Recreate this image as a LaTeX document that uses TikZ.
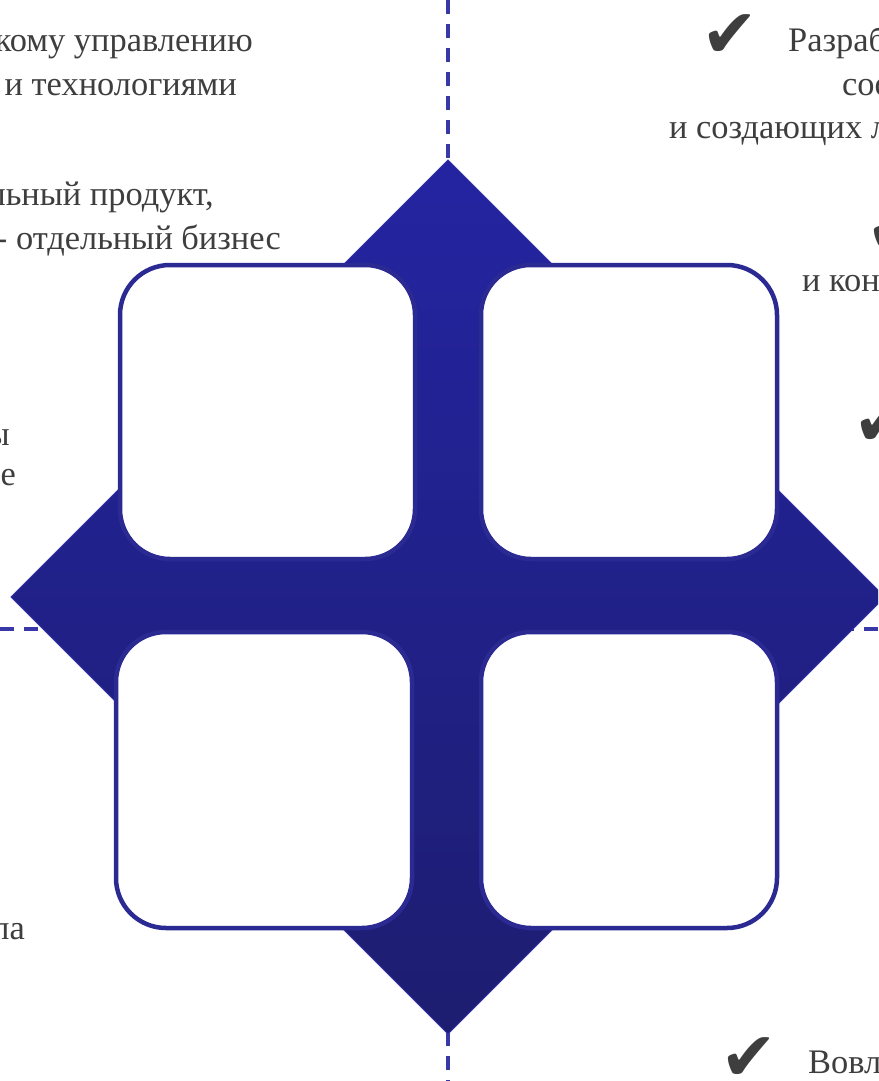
\documentclass[tikz,border=0pt]{standalone}
\usepackage{fontspec}
\setmainfont{Liberation Serif}
\newfontfamily\symfont{DejaVu Sans}
\definecolor{txtc}{HTML}{3E3E3E}
\definecolor{dtop}{HTML}{2424A2}
\definecolor{dbot}{HTML}{1D1D70}
\definecolor{dedge}{HTML}{3232A6}
\definecolor{sqb}{HTML}{2A2A92}
\definecolor{dashc}{HTML}{3838A8}
\begin{document}
\begin{tikzpicture}[x=1pt,y=-1pt,
  txt/.style={font=\fontsize{34.4}{40}\selectfont, text=txtc, inner sep=0pt},
  chk/.style={font=\symfont\fontsize{68}{68}\selectfont, text=txtc, inner sep=0pt},
  sq/.style={draw=sqb, line width=4.5pt, fill=white, rounded corners=50pt},
  dsh/.style={draw=dashc, line width=3.5pt, dash pattern=on 14pt off 10pt}]
\useasboundingbox (0,0) rectangle (878,1081);
\clip (0,0) rectangle (878,1081);
\fill[white] (0,0) rectangle (878,1081);
% dashed axes
\coordinate (vt) at (448,0); \coordinate (vb) at (448,1081);
\coordinate (hl) at (0,629); \coordinate (hr) at (878,629);
\draw[dsh] (vt) -- (vb);
\draw[dsh] (hl) -- (hr);
% diamond corners
\coordinate (dt) at (448,160);
\coordinate (dr) at (885,597);
\coordinate (db) at (448,1034);
\coordinate (dl) at (11,597);
% soft shadow
\foreach \s/\o in {1/0.10,2/0.10,3/0.09,4/0.07,5/0.05,6/0.03}{
  \fill[black, opacity=\o, shift={(\s,\s)}] (dt) -- (dr) -- (db) -- (dl) -- cycle;
}
% diamond
\shade[top color=dtop, bottom color=dbot] (dt) -- (dr) -- (db) -- (dl) -- cycle;
\draw[dedge, line width=1pt] (dt) -- (dr) -- (db) -- (dl) -- cycle;
% rounded squares
\draw[sq] (120,265) rectangle (415,559);
\draw[sq] (481,265) rectangle (777,559);
\draw[sq] (116,632) rectangle (412,928);
\draw[sq] (481,632) rectangle (777,928);
% left texts
\node[txt, anchor=base east] (l1) at (253,52) {кому управлению};
\node[txt, anchor=base east] (l2) at (237,95) {и технологиями};
\node[txt, anchor=base east] (l3) at (214,205) {льный продукт,};
\node[txt, anchor=base east] (l4) at (281,249) {- отдельный бизнес};
\node[txt, anchor=base east] (l5) at (10,445) {ы};
\node[txt, anchor=base east] (l6) at (16,485) {е};
\node[txt, anchor=base east] (l7) at (25,939) {ла};
% right texts
\node[chk] (c1) at (730,36) {✔};
\node[txt, anchor=base west] (r1) at (788,52) {Разраб};
\node[txt, anchor=base west] (r2) at (842,95) {соо};
\node[txt, anchor=base west] (r3) at (669,138) {и создающих л};
\node[chk] (c2) at (895,231) {✔};
\node[txt, anchor=base west] (r4) at (802,291) {и кон};
\node[chk] (c3) at (882,424) {✔};
\node[chk] (c4) at (749,1059) {✔};
\node[txt, anchor=base west] (r5) at (808,1073) {Вовл};
\end{tikzpicture}
\end{document}
